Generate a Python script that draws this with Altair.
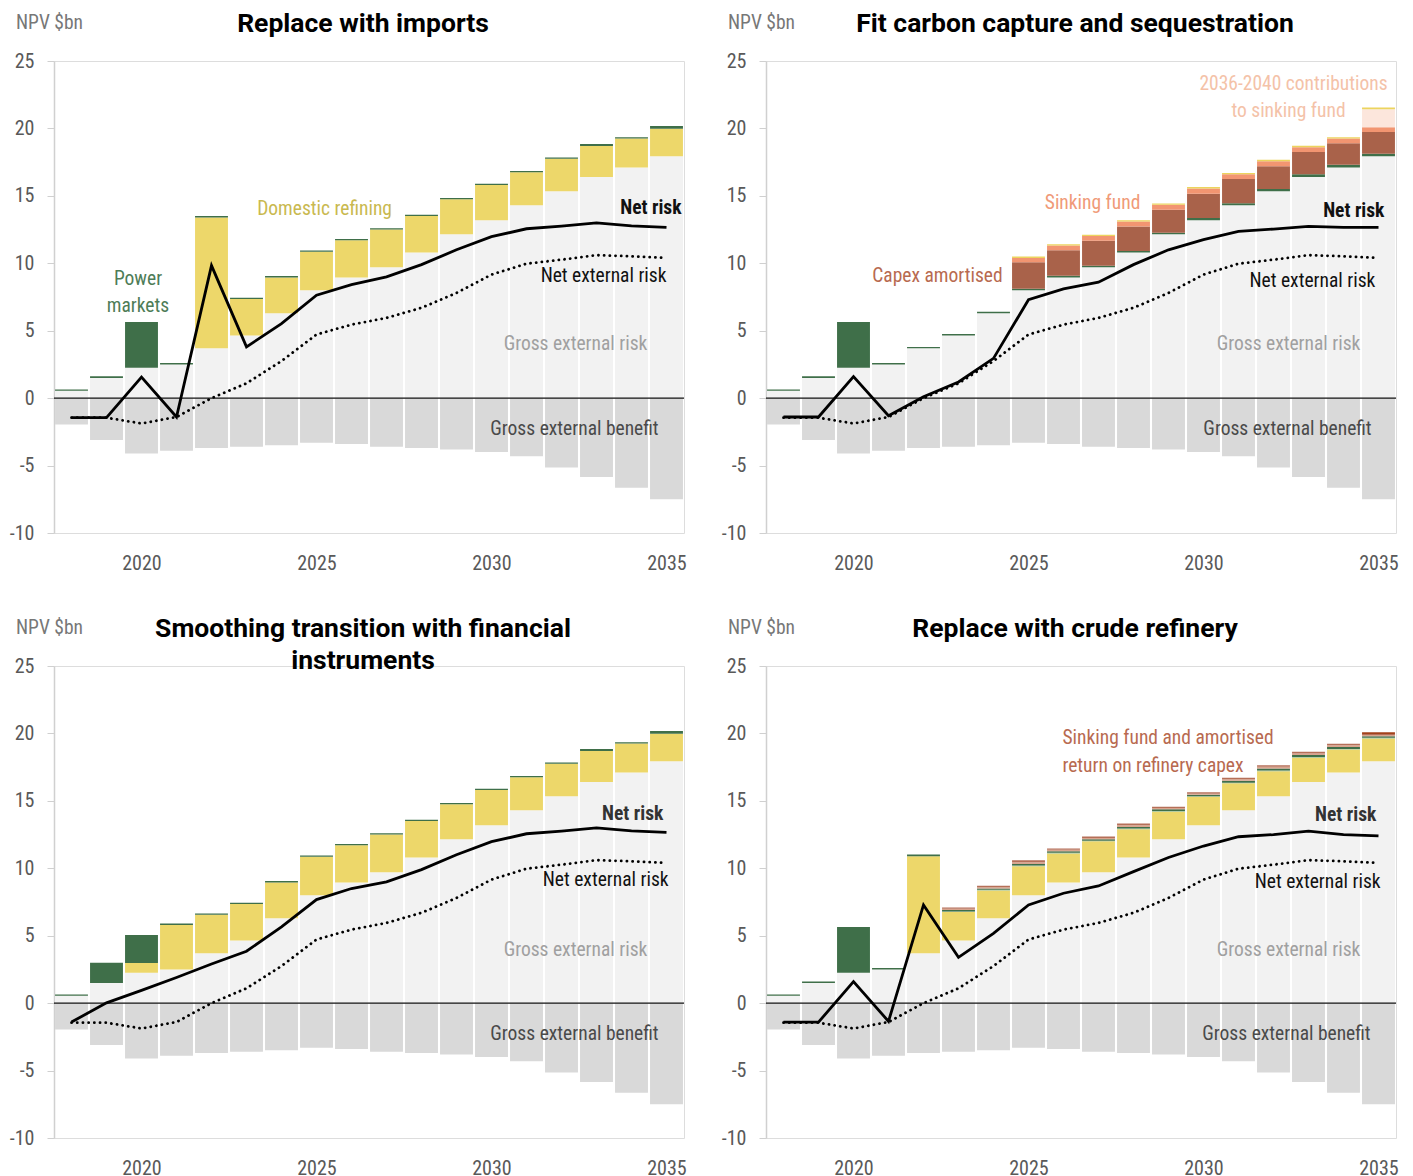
import altair as alt
import pandas as pd

FONT = "Roboto Condensed, Liberation Sans Narrow, DejaVu Sans Condensed, Roboto, sans-serif"
TITLE_FONT = "Roboto, Liberation Sans, sans-serif"

YEARS = list(range(2018, 2036))
X_TICKS = [2020, 2025, 2030, 2035]
Y_TICKS = [-10, -5, 0, 5, 10, 15, 20, 25]

# shared series
GROSS_RISK = [0.55, 1.5, 2.25, 2.5, 3.7, 4.65, 6.3, 8.0, 8.95, 9.7, 10.8, 12.15, 13.2, 14.3, 15.35, 16.4, 17.1, 17.93]
GROSS_BENEFIT = [-1.95, -3.1, -4.1, -3.9, -3.7, -3.6, -3.5, -3.3, -3.4, -3.6, -3.7, -3.8, -4.0, -4.3, -5.15, -5.85, -6.65, -7.5]
NET_EXT_RISK = [-1.45, -1.45, -1.88, -1.4, 0.0, 1.1, 2.75, 4.72, 5.45, 5.95, 6.7, 7.8, 9.16, 9.97, 10.27, 10.6, 10.52, 10.4]

# panel 1: Replace with imports
P1_DOMESTIC = [0, 0, 0, 0, 9.7, 2.7, 2.65, 2.85, 2.75, 2.8, 2.7, 2.6, 2.6, 2.45, 2.4, 2.3, 2.15, 2.05]
P1_POWER = [0.1, 0.12, 3.4, 0.1, 0.1, 0.1, 0.1, 0.1, 0.1, 0.1, 0.1, 0.1, 0.1, 0.1, 0.1, 0.15, 0.1, 0.2]
P1_NET = [-1.45, -1.45, 1.56, -1.4, 9.83, 3.8, 5.53, 7.63, 8.42, 8.99, 9.9, 11.0, 11.97, 12.56, 12.76, 13.0, 12.77, 12.67]

# panel 2: Fit carbon capture and sequestration
P2_POWER = [0.1, 0.12, 3.4, 0.1, 0.1, 0.1, 0.1, 0.12, 0.12, 0.12, 0.12, 0.12, 0.15, 0.15, 0.15, 0.2, 0.2, 0.2]
P2_CAPEX = [0, 0, 0, 0, 0, 0, 0, 1.95, 1.9, 1.85, 1.8, 1.7, 1.8, 1.8, 1.7, 1.65, 1.6, 1.6]
P2_SINKING = [0, 0, 0, 0, 0, 0, 0, 0.33, 0.35, 0.35, 0.37, 0.37, 0.4, 0.35, 0.37, 0.35, 0.35, 0.35]
P2_LATER = [0] * 17 + [1.35]
P2_TOP = [0, 0, 0, 0, 0, 0, 0, 0.1, 0.1, 0.1, 0.1, 0.1, 0.1, 0.1, 0.1, 0.12, 0.1, 0.12]
P2_NET = [-1.4, -1.4, 1.6, -1.3, 0.1, 1.2, 2.95, 7.3, 8.1, 8.6, 9.9, 11.0, 11.76, 12.37, 12.54, 12.74, 12.67, 12.67]

# panel 3: Smoothing transition with financial instruments
P3_DOMESTIC = [0, 0, 0.73, 3.3, 2.85, 2.7, 2.65, 2.85, 2.75, 2.8, 2.7, 2.6, 2.6, 2.45, 2.4, 2.3, 2.15, 2.05]
P3_POWER = [0.1, 1.5, 2.08, 0.1, 0.1, 0.1, 0.1, 0.1, 0.1, 0.1, 0.1, 0.1, 0.1, 0.1, 0.1, 0.15, 0.1, 0.2]
P3_NET = [-1.4, 0.02, 0.95, 1.9, 2.9, 3.85, 5.65, 7.68, 8.5, 9.0, 9.9, 11.0, 11.97, 12.56, 12.76, 13.0, 12.77, 12.67]

# panel 4: Replace with crude refinery
P4_DOMESTIC = [0, 0, 0, 0, 7.2, 2.1, 2.05, 2.15, 2.15, 2.3, 2.1, 2.05, 2.1, 2.0, 1.85, 1.8, 1.7, 1.7]
P4_LGREEN = [0, 0, 0, 0, 0] + [0.05] * 13
P4_POWER = [0.1, 0.1, 3.4, 0.1, 0.12, 0.1, 0.1, 0.12, 0.12, 0.1, 0.12, 0.12, 0.1, 0.15, 0.15, 0.15, 0.15, 0.12]
P4_SINKING = [0, 0, 0, 0, 0, 0.1, 0.1, 0.13, 0.1, 0.1, 0.12, 0.1, 0.08, 0.1, 0.12, 0.12, 0.12, 0.08]
P4_AMORT = [0, 0, 0, 0, 0, 0.1, 0.1, 0.15, 0.1, 0.1, 0.13, 0.1, 0.1, 0.12, 0.12, 0.12, 0.12, 0.08]
P4_TOPRED = [0] * 17 + [0.12]
P4_NET = [-1.41, -1.41, 1.6, -1.35, 7.28, 3.4, 5.18, 7.28, 8.15, 8.69, 9.75, 10.8, 11.65, 12.34, 12.5, 12.76, 12.5, 12.41]

LAYER_NAMES = ["benefit", "risk", "green", "yellow", "capex", "sinking", "later", "ytop",
               "lgreen", "tan", "brown", "dred"]
LAYER_COLORS = ["#d9d9d9", "#f2f2f2", "#3f6f49", "#edd76a", "#a9624a", "#f29571", "#fce6dc", "#ecd45e",
                "#9cbf8f", "#d9a48e", "#b56f58", "#a3411a"]

# annotations: panel, x (years), y (NPV), text, colour, align, bold
NOTES = [
    (1, 2019.9, 8.83, "Power", "#4e7c57", "center", False),
    (1, 2019.9, 6.82, "markets", "#4e7c57", "center", False),
    (1, 2025.23, 14.0, "Domestic refining", "#c9b94f", "center", False),
    (1, 2035.43, 14.1, "Net risk", "#111111", "right", True),
    (1, 2035.0, 9.05, "Net external risk", "#111111", "right", False),
    (1, 2032.4, 4.0, "Gross external risk", "#a0a0a0", "center", False),
    (1, 2032.37, -2.3, "Gross external benefit", "#4a4a4a", "center", False),
    (2, 2035.26, 23.3, "2036-2040 contributions", "#f4c2a8", "right", False),
    (2, 2034.06, 21.3, "to sinking fund", "#f4c2a8", "right", False),
    (2, 2026.83, 14.47, "Sinking fund", "#f09a78", "center", False),
    (2, 2035.17, 13.87, "Net risk", "#111111", "right", True),
    (2, 2022.4, 9.05, "Capex amortised", "#b86a50", "center", False),
    (2, 2034.91, 8.68, "Net external risk", "#111111", "right", False),
    (2, 2032.43, 4.0, "Gross external risk", "#a0a0a0", "center", False),
    (2, 2032.4, -2.3, "Gross external benefit", "#4a4a4a", "center", False),
    (3, 2034.91, 14.0, "Net risk", "#333333", "right", True),
    (3, 2035.06, 9.1, "Net external risk", "#111111", "right", False),
    (3, 2032.4, 3.93, "Gross external risk", "#a0a0a0", "center", False),
    (3, 2032.37, -2.3, "Gross external benefit", "#4a4a4a", "center", False),
    (4, 2025.97, 19.63, "Sinking fund and amortised", "#b86a50", "left", False),
    (4, 2025.97, 17.56, "return on refinery capex", "#b86a50", "left", False),
    (4, 2034.94, 13.93, "Net risk", "#333333", "right", True),
    (4, 2035.06, 8.96, "Net external risk", "#111111", "right", False),
    (4, 2032.43, 3.93, "Gross external risk", "#a0a0a0", "center", False),
    (4, 2032.37, -2.3, "Gross external benefit", "#4a4a4a", "center", False),
]

PANELS = [
    (1, ["Replace with imports"],
     [("yellow", P1_DOMESTIC), ("green", P1_POWER)], P1_NET),
    (2, ["Fit carbon capture and sequestration"],
     [("green", P2_POWER), ("capex", P2_CAPEX), ("sinking", P2_SINKING), ("later", P2_LATER), ("ytop", P2_TOP)], P2_NET),
    (3, ["Smoothing transition with financial", "instruments"],
     [("yellow", P3_DOMESTIC), ("green", P3_POWER)], P3_NET),
    (4, ["Replace with crude refinery"],
     [("yellow", P4_DOMESTIC), ("lgreen", P4_LGREEN), ("green", P4_POWER), ("tan", P4_SINKING),
      ("brown", P4_AMORT), ("dred", P4_TOPRED)], P4_NET),
]

W, H = 630, 472

x_scale = alt.Scale(domain=[2017.5, 2035.5], nice=False, zero=False)
y_scale = alt.Scale(domain=[-10, 25], nice=False, zero=False)
x_axis = alt.Axis(values=X_TICKS, format="d", grid=False, domain=False, ticks=False,
                  labelPadding=20, labelFontSize=20, labelColor="#595959", labelFont=FONT, title=None)
y_axis = alt.Axis(values=Y_TICKS, grid=False, domainColor="#d0d0d0", domainWidth=1.5,
                  tickColor="#d0d0d0", tickSize=7, labelPadding=13, labelFontSize=20,
                  labelColor="#595959", labelFont=FONT, title=None, labelExpr="datum.value + ''")


def make_panel(pid, title_lines, layers, net):
    all_layers = [("benefit", GROSS_BENEFIT), ("risk", GROSS_RISK)] + layers
    rows = []
    for order, (name, vals) in enumerate(all_layers):
        for yr, v in zip(YEARS, vals):
            if v != 0:
                rows.append({"year": yr, "layer": name, "value": v, "order": order})
    bar_df = pd.DataFrame(rows)

    bars = alt.Chart(bar_df).transform_stack(
        stack="value", groupby=["year"], sort=[alt.SortField("order", order="ascending")],
        as_=["y0", "y1"], offset="zero"
    ).transform_calculate(
        x0="datum.year - 0.47", x1="datum.year + 0.47"
    ).mark_bar().encode(
        x=alt.X("x0:Q", scale=x_scale, axis=x_axis),
        x2="x1:Q",
        y=alt.Y("y0:Q", scale=y_scale, axis=y_axis),
        y2="y1:Q",
        color=alt.Color("layer:N", scale=alt.Scale(domain=LAYER_NAMES, range=LAYER_COLORS), legend=None),
    )

    zero = alt.Chart(pd.DataFrame({"z": [0]})).mark_rule(color="#111111", strokeWidth=1.4).encode(
        y=alt.Y("z:Q", scale=y_scale)
    )

    line_df = pd.DataFrame({"year": YEARS, "net": net, "ext": NET_EXT_RISK})
    dotted = alt.Chart(line_df).mark_line(color="black", strokeWidth=2.8, strokeDash=[0.1, 5.6],
                                          strokeCap="round").encode(
        x=alt.X("year:Q", scale=x_scale), y=alt.Y("ext:Q", scale=y_scale))
    solid = alt.Chart(line_df).mark_line(color="black", strokeWidth=2.8).encode(
        x=alt.X("year:Q", scale=x_scale), y=alt.Y("net:Q", scale=y_scale))

    layers_out = [bars, zero, dotted, solid]

    notes = [n for n in NOTES if n[0] == pid]
    for align in ["left", "center", "right"]:
        for bold in [False, True]:
            sub = [n for n in notes if n[5] == align and n[6] == bold]
            if not sub:
                continue
            ndf = pd.DataFrame(sub, columns=["panel", "x", "y", "text", "color", "align", "bold"])
            layers_out.append(
                alt.Chart(ndf).mark_text(align=align, baseline="middle", fontSize=19.5, font=FONT,
                                         fontWeight="bold" if bold else "normal").encode(
                    x=alt.X("x:Q", scale=x_scale), y=alt.Y("y:Q", scale=y_scale),
                    text="text:N", color=alt.Color("color:N", scale=None))
            )

    title = alt.Chart(pd.DataFrame({"t": [0]})).mark_text(
        align="center", baseline="top", fontSize=26.5, fontWeight="bold", font=TITLE_FONT,
        color="#000000", lineHeight=32
    ).encode(x=alt.value(309), y=alt.value(-50), text=alt.value(title_lines))
    unit = alt.Chart(pd.DataFrame({"t": [0]})).mark_text(
        align="left", baseline="middle", fontSize=19.5, font=FONT, color="#777777"
    ).encode(x=alt.value(-38), y=alt.value(-38), text=alt.value("NPV $bn"))
    layers_out += [title, unit]

    return alt.layer(*layers_out).properties(width=W, height=H)


p = [make_panel(*args) for args in PANELS]

chart = alt.concat(
    *p, columns=2, spacing=alt.RowColnumber(row=133, column=82), bounds="flush",
).properties(
    padding={"left": 0, "top": 2, "right": 0, "bottom": 0}
).configure_view(stroke=None).configure(font=FONT)

chart.save("out.html", embed_options={"renderer": "svg", "actions": False})
